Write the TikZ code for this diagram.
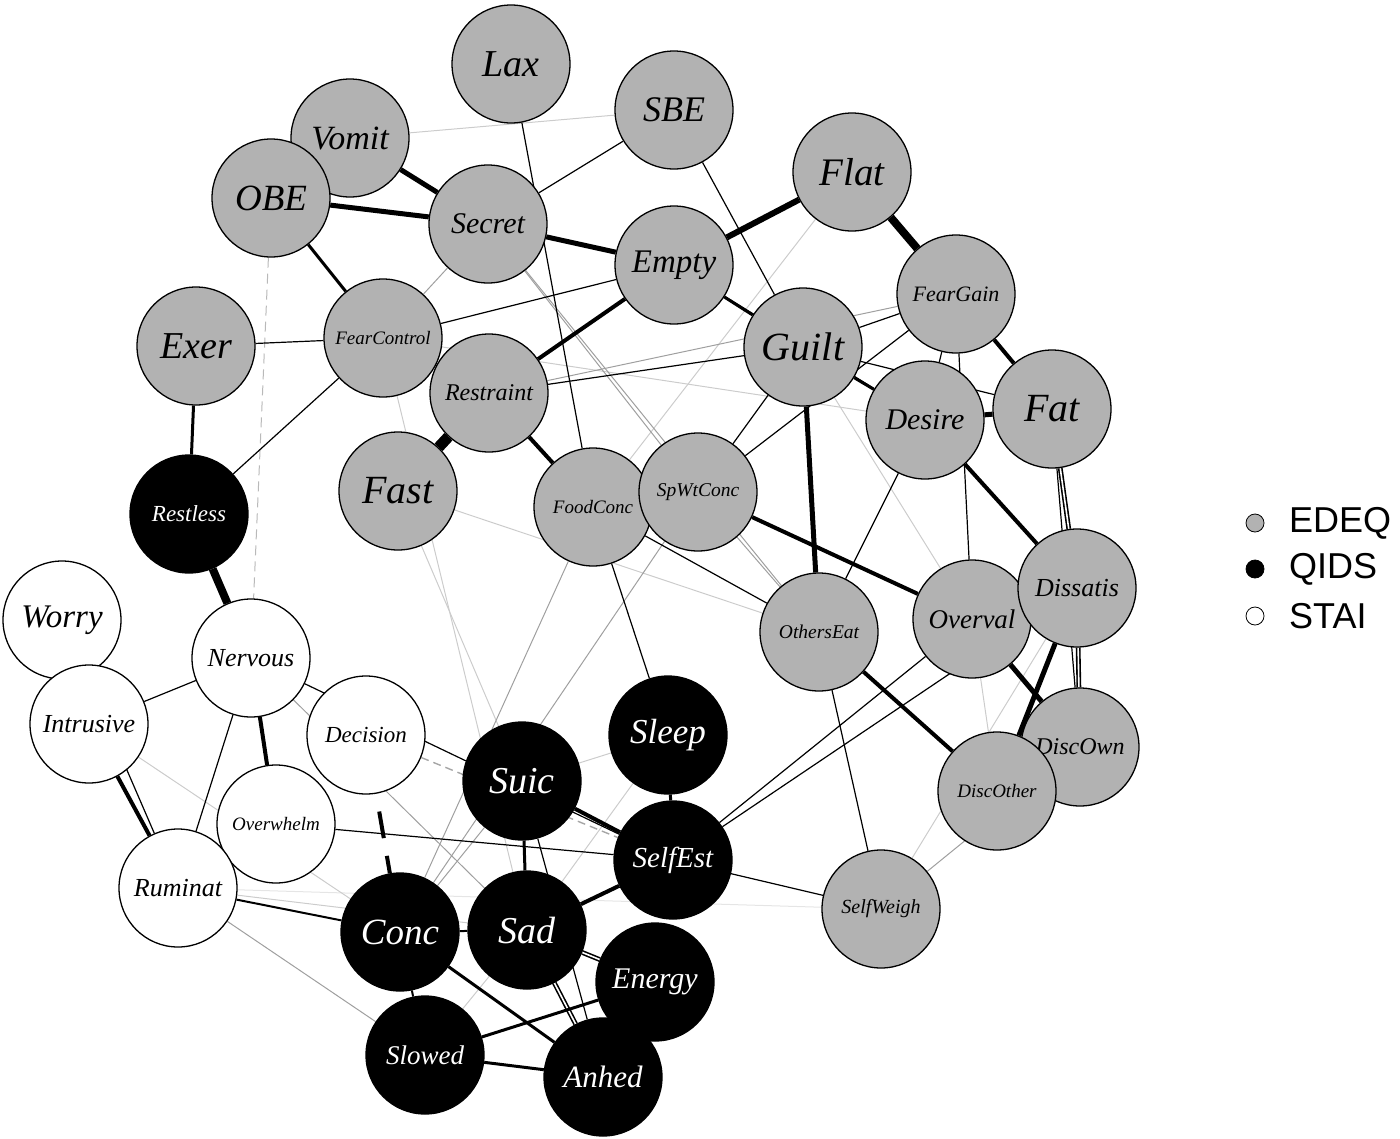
\documentclass[tikz,border=0pt]{standalone}
\usepackage{fontspec}
\setmainfont{Liberation Serif}
\newfontfamily\legfont{Liberation Sans}
\definecolor{edeq}{RGB}{178,178,178}
\newcommand\fs[1]{\fontsize{#1}{#1}\selectfont\itshape}
\pgfdeclarelayer{bg}
\pgfsetlayers{bg,main}
\tikzset{
  nd/.style={circle, draw=black, line width=1.3pt, minimum size=118pt, inner sep=0pt},
  ed/.style={nd, fill=edeq},
  qi/.style={nd, fill=black, text=white},
  st/.style={nd, fill=white},
  lg/.style={draw=black, line width=0.8pt, fill=#1, circle, minimum size=18pt, inner sep=0pt},
  lt/.style={anchor=west, font=\legfont\fontsize{36}{36}\selectfont, inner sep=0pt},
  ln/.style={black, line width=1.2pt},
  lh/.style={black, line width=2pt},
  lm/.style={black, line width=3pt},
  lk/.style={black, line width=5pt},
  lx/.style={black, line width=8pt},
  lgr/.style={gray!75, line width=1pt},
  lli/.style={gray!40, line width=1pt},
  lvl/.style={gray!20, line width=1pt},
  ldb/.style={black, line width=1.6pt, double=white, double distance=1.6pt},
}
\begin{document}
\begin{tikzpicture}[x=1pt,y=-1pt]
\useasboundingbox (0,0) rectangle (1400,1138);
% EDEQ nodes
\node[ed, font=\fs{38}] (Lax) at (511,64) {Lax};
\node[ed, font=\fs{36}] (SBE) at (674,110) {SBE};
\node[ed, font=\fs{34}] (Vomit) at (350,138) {Vomit};
\node[ed, font=\fs{37}] (OBE) at (271,198) {OBE};
\node[ed, font=\fs{30}] (Secret) at (488,224) {Secret};
\node[ed, font=\fs{39}] (Flat) at (852,172) {Flat};
\node[ed, font=\fs{33}] (Empty) at (674,265) {Empty};
\node[ed, font=\fs{22}] (FearGain) at (956,294) {FearGain};
\node[ed, font=\fs{38}] (Exer) at (196,346) {Exer};
\node[ed, font=\fs{19}] (FearControl) at (383,338) {FearControl};
\node[ed, font=\fs{24}] (Restraint) at (489,393) {Restraint};
\node[ed, font=\fs{40}] (Guilt) at (803,347) {Guilt};
\node[ed, font=\fs{30}] (Desire) at (925,420) {Desire};
\node[ed, font=\fs{40}] (Fat) at (1052,409) {Fat};
\node[ed, font=\fs{40}] (Fast) at (398,491) {Fast};
\node[ed, font=\fs{19}] (FoodConc) at (593,507) {FoodConc};
\node[ed, font=\fs{19.5}] (SpWtConc) at (698,492) {SpWtConc};
\node[ed, font=\fs{19.5}] (OthersEat) at (819,632) {OthersEat};
\node[ed, font=\fs{27}] (Overval) at (972,619) {Overval};
\node[ed, font=\fs{26}] (Dissatis) at (1077,588) {Dissatis};
\node[ed, font=\fs{24}] (DiscOwn) at (1080,747) {DiscOwn};
\node[ed, font=\fs{19}] (DiscOther) at (997,791) {DiscOther};
\node[ed, font=\fs{20}] (SelfWeigh) at (881,909) {SelfWeigh};
% QIDS nodes
\node[qi, font=\fs{23}] (Restless) at (189,514) {Restless};
\node[qi, font=\fs{35}] (Sleep) at (668,735) {Sleep};
\node[qi, font=\fs{38}] (Suic) at (522,781) {Suic};
\node[qi, font=\fs{29}] (SelfEst) at (673,860) {SelfEst};
\node[qi, font=\fs{37}] (Conc) at (400,932) {Conc};
\node[qi, font=\fs{38}] (Sad) at (527,930) {Sad};
\node[qi, font=\fs{30}] (Energy) at (655,982) {Energy};
\node[qi, font=\fs{27}] (Slowed) at (425,1055) {Slowed};
\node[qi, font=\fs{31}] (Anhed) at (603,1077) {Anhed};
% STAI nodes
\node[st, font=\fs{33}] (Worry) at (62,620) {Worry};
\node[st, font=\fs{26}] (Nervous) at (251,658) {Nervous};
\node[st, font=\fs{26}] (Intrusive) at (89,724) {Intrusive};
\node[st, font=\fs{23}] (Decision) at (366,735) {Decision};
\node[st, font=\fs{19}] (Overwhelm) at (276,824) {Overwhelm};
\node[st, font=\fs{26}] (Ruminat) at (178,888) {Ruminat};
% legend
\node[lg=edeq] (LgE) at (1255,523) {};
\node[lg=black] (LgQ) at (1255,569) {};
\node[lg=white] (LgS) at (1255,616) {};
\node[lt] (TE) at (1289,523) {EDEQ};
\node[lt] (TQ) at (1289,569) {QIDS};
\node[lt] (TS) at (1289,616) {STAI};
\begin{pgfonlayer}{bg}
% very light / light gray
\draw[lvl] (Ruminat) -- (SelfWeigh);
\draw[lli] (Vomit) -- (SBE);
\draw[lli] (Flat) -- (FoodConc);
\draw[lli] (Guilt) -- (Overval);
\draw[lli] (Fast) -- (OthersEat);
\draw[lli] (Fast) -- (Suic);
\draw[lli] (FearControl) -- (Sad);
\draw[lli] (Sleep) -- (Suic);
\draw[lli] (Sleep) -- (Sad);
\draw[lli] (Intrusive) -- (Conc);
\draw[lli] (Ruminat) -- (Sad);
\draw[lli] (Sad) -- (Slowed);
\draw[lli] (Overval) -- (DiscOther);
\draw[lli] (Dissatis) -- (SelfWeigh);
\draw[lli] (FearControl) -- (Desire);
% gray
\draw[lgr] (FearControl) -- (Secret);
\draw[lgr] (Secret) -- (SpWtConc);
\draw[lgr] (Secret) -- (OthersEat);
\draw[lgr] (SpWtConc) -- (OthersEat);
\draw[lgr] (FoodConc) -- (Conc);
\draw[lgr] (SpWtConc) -- (Conc);
\draw[lgr] (Conc) -- (Suic);
\draw[lgr] (Nervous) -- (Sad);
\draw[lgr] (Ruminat) -- (Slowed);
\draw[lgr] (DiscOwn) -- (SelfWeigh);
\draw[lgr] (Restraint) -- (FearGain);
\draw[gray!55, line width=1pt, dash pattern=on 10pt off 6pt] (OBE) -- (Nervous);
\draw[gray!70, line width=1.4pt, dash pattern=on 8pt off 5pt] (Decision) -- (SelfEst);
% thin black
\draw[ln] (Lax) -- (FoodConc);
\draw[ln] (Secret) -- (SBE);
\draw[ln] (FearControl) -- (Empty);
\draw[ln] (Exer) -- (FearControl);
\draw[ln] (Restless) -- (FearControl);
\draw[ln] (Restraint) -- (Guilt);
\draw[ln] (SBE) -- (Guilt);
\draw[ln] (Guilt) -- (SpWtConc);
\draw[ln] (FearGain) -- (SpWtConc);
\draw[ln] (FearGain) -- (Guilt);
\draw[ln] (FearGain) -- (Desire);
\draw[ln] (FearGain) -- (Overval);
\draw[ln] (Empty) -- (Desire);
\draw[ln] (Guilt) -- (Fat);
\draw[ln] (Desire) -- (OthersEat);
\draw[ln] (FoodConc) -- (OthersEat);
\draw[ln] (FoodConc) -- (Sleep);
\draw[ln] (SelfEst) -- (Overval);
\draw[ln] (SelfEst) -- (Dissatis);
\draw[ln] (SelfEst) -- (SelfWeigh);
\draw[ln] (OthersEat) -- (SelfWeigh);
\draw[ln] (Nervous) -- (Intrusive);
\draw[ln] (Nervous) -- (Ruminat);
\draw[ln] (Nervous) -- (SelfEst);
\draw[ln] (Overwhelm) -- (SelfEst);
\draw[ln] (Suic) -- (Anhed);
\draw[ln] (Worry) -- (Ruminat);
% medium
\draw[lh] (Ruminat) -- (Conc);
\draw[lh] (Conc) -- (Slowed);
\draw[lh] (Conc) -- (Sad);
\draw[lh] (Energy) -- (Anhed);
\draw[ldb] (Sad) -- (Anhed);
\draw[ldb] (Sad) -- (Energy);
\draw[ldb] (Fat) -- (Dissatis);
\draw[ldb] (Dissatis) -- (DiscOwn);
\draw[ln] (Fat) -- (DiscOwn);
\draw[lm] (OBE) -- (FearControl);
\draw[lm] (Empty) -- (Guilt);
\draw[lm] (Guilt) -- (Desire);
\draw[lm] (Exer) -- (Restless);
\draw[lm] (Sleep) -- (SelfEst);
\draw[lm] (Suic) -- (Sad);
\draw[lm] (Conc) -- (Anhed);
\draw[lm] (Slowed) -- (Energy);
\draw[lm] (Slowed) -- (Anhed);
\draw[black, line width=4pt, dash pattern=on 27pt off 18pt, dash phase=27pt] (Decision) -- (Conc);
% thick
\draw[black, line width=4pt] (Restraint) -- (Empty);
\draw[black, line width=4pt] (Restraint) -- (FoodConc);
\draw[black, line width=4pt] (FearGain) -- (Fat);
\draw[black, line width=4pt] (Desire) -- (Dissatis);
\draw[black, line width=4pt] (SpWtConc) -- (Overval);
\draw[black, line width=4pt] (OthersEat) -- (DiscOther);
\draw[black, line width=4pt] (Intrusive) -- (Ruminat);
\draw[black, line width=4pt] (Nervous) -- (Overwhelm);
\draw[black, line width=4pt] (Suic) -- (SelfEst);
\draw[black, line width=4pt] (Sad) -- (SelfEst);
\draw[lk] (Vomit) -- (Secret);
\draw[lk] (OBE) -- (Secret);
\draw[lk] (Secret) -- (Empty);
\draw[lk] (Guilt) -- (OthersEat);
\draw[lk] (Desire) -- (Fat);
\draw[lk] (Dissatis) -- (DiscOther);
\draw[lk] (Overval) -- (DiscOwn);
\draw[black, line width=6pt] (Empty) -- (Flat);
\draw[lx] (Flat) -- (FearGain);
\draw[lx] (Restless) -- (Nervous);
\draw[black, line width=11pt] (Restraint) -- (Fast);
\end{pgfonlayer}
\end{tikzpicture}
\end{document}
